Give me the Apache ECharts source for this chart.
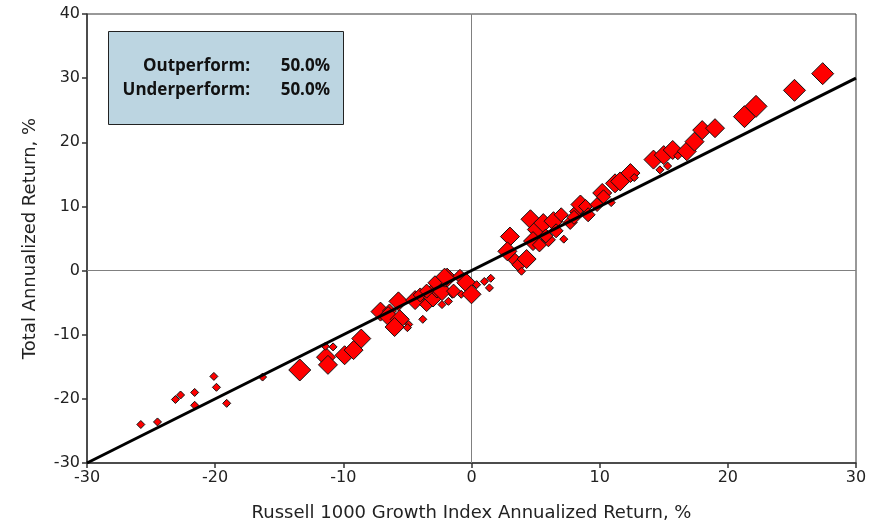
<!DOCTYPE html>
<html>
<head>
<meta charset="utf-8">
<script src="https://cdn.jsdelivr.net/npm/echarts@6/dist/echarts.min.js"></script>
<style>
  html, body { margin: 0; padding: 0; background: #fff; }
  #chart { width: 884px; height: 527px; }
</style>
</head>
<body>
<div id="chart"></div>
<script>
// Fund annualized return vs. Russell 1000 Growth annualized return, per period.
const benchmarkReturn = [
  -25.8, -24.5, -23.1, -22.7, -21.6, -21.6, -20.1, -19.9, -19.1, -16.3,
  -13.4, -11.35, -11.2, -11.4, -10.8, -9.9, -9.2, -8.6,
  -7.1, -6.4, -6.5, -5.7, -5.6, -6.0, -4.9, -5.0, -3.8, -4.4, -4.0, -3.5,
  -3.0, -2.7, -2.3, -2.3, -1.8, -1.9, -1.5, -0.9, -0.4, -0.8, 0.0, 0.4,
  1.0, 1.4, 1.5, -2.1, -2.85, -3.5, -1.4,
  3.0, 2.8, 3.4, 3.7, 3.9, 4.3, 4.6, 5.1, 4.8, 5.3, 5.6, 6.0, 6.4, 7.0,
  7.2, 7.7, 8.2, 8.5, 8.9, 9.1, 9.8, 10.2, 10.3, 10.9, 11.2, 11.6, 12.4,
  12.7, 14.2, 14.7, 15.0, 15.3, 15.7, 16.1, 16.8, 17.4, 18.0, 19.0,
  21.3, 22.2, 25.2, 27.4, 5.8, 6.6, 8.0
];
const fundReturn = [
  -24.0, -23.6, -20.1, -19.4, -19.0, -21.0, -16.5, -18.2, -20.7, -16.6,
  -15.5, -13.5, -14.7, -11.8, -11.9, -13.2, -12.4, -10.6,
  -6.4, -6.3, -7.1, -4.8, -7.6, -8.8, -8.4, -8.9, -7.6, -4.6, -3.8, -5.3,
  -4.2, -2.8, -3.2, -5.3, -4.8, -1.1, -3.7, -0.9, -1.9, -3.7, -3.7, -2.2,
  -1.7, -2.7, -1.2, -1.1, -1.9, -3.2, -3.2,
  5.3, 3.0, 1.6, 0.9, -0.1, 1.8, 8.0, 6.4, 4.6, 4.0, 7.4, 4.8, 7.7, 8.7,
  4.9, 7.5, 9.2, 10.3, 10.0, 8.7, 10.3, 12.1, 11.5, 10.6, 13.6, 13.9, 15.2,
  14.5, 17.3, 15.7, 18.0, 16.3, 18.8, 17.9, 18.6, 20.1, 21.9, 22.2,
  24.0, 25.6, 28.1, 30.7, 5.4, 6.2, 8.3
];
// Relative marker weight (1 = smallest, 4 = largest)
const markerWeight = [
  1, 1, 1, 1, 1, 1, 1, 1, 1, 1,
  4, 3, 3, 1, 1, 3, 3, 3,
  3, 2, 3, 3, 3, 3, 1, 1, 1, 3, 2, 2,
  3, 3, 3, 1, 1, 3, 1, 2, 3, 1, 3, 1,
  1, 1, 1, 3, 2, 2, 2,
  3, 3, 2, 2, 1, 3, 3, 3, 3, 2, 3, 2, 3, 2,
  1, 2, 2, 3, 2, 2, 2, 3, 2, 1, 3, 3, 3,
  1, 3, 1, 3, 1, 3, 1, 3, 3, 3, 3,
  4, 4, 4, 4, 2, 2, 2
];
const summaryLabels = ['Outperform:', 'Underperform:'];
const summaryValues = ['50.0%', '50.0%'];
const xRange = [-30, 30];
const yRange = [-30, 40];

const weightPx = { 1: 8, 2: 14, 3: 19, 4: 22 };
const points = benchmarkReturn.map((x, i) => [x, fundReturn[i], markerWeight[i]]);

const tickFont = { fontFamily: 'DejaVu Sans', fontSize: 16, color: '#222' };
const nameFont = { fontFamily: 'DejaVu Sans', fontSize: 18, color: '#222' };
const chart = echarts.init(document.getElementById('chart'), null, { renderer: 'canvas' });

chart.setOption({
  animation: false,
  backgroundColor: '#fff',
  grid: {
    left: 87, right: 28, top: 14, bottom: 63,
    show: true, borderColor: '#333', borderWidth: 1, backgroundColor: 'transparent'
  },
  xAxis: {
    type: 'value', min: xRange[0], max: xRange[1], interval: 10,
    name: 'Russell 1000 Growth Index Annualized Return, %',
    nameLocation: 'middle', nameGap: 41,
    nameTextStyle: nameFont,
    axisLine: { show: true, onZero: false, lineStyle: { color: '#333', width: 1.5 } },
    axisTick: { show: true, length: 5, lineStyle: { color: '#333', width: 1.5 } },
    axisLabel: Object.assign({ margin: 7 }, tickFont),
    splitLine: { show: false }
  },
  yAxis: {
    type: 'value', min: yRange[0], max: yRange[1], interval: 10,
    name: 'Total Annualized Return, %',
    nameLocation: 'middle', nameGap: 48,
    nameTextStyle: nameFont,
    axisLine: { show: true, onZero: false, lineStyle: { color: '#333', width: 1.5 } },
    axisTick: { show: true, length: 5, lineStyle: { color: '#333', width: 1.5 } },
    axisLabel: Object.assign({ margin: 7 }, tickFont),
    splitLine: { show: false }
  },
  series: [
    {
      type: 'scatter',
      data: points,
      symbol: 'diamond',
      symbolSize: (v) => weightPx[v[2]],
      itemStyle: { color: '#ff0000', borderColor: '#111', borderWidth: 1, opacity: 1 },
      z: 3,
      markLine: {
        silent: true, symbol: 'none', label: { show: false },
        lineStyle: { color: '#808080', width: 1, type: 'solid' },
        data: [{ xAxis: 0 }, { yAxis: 0 }],
        z: 1
      }
    },
    {
      type: 'line',
      data: [[xRange[0], xRange[0]], [xRange[1], xRange[1]]],
      showSymbol: false,
      lineStyle: { color: '#000', width: 3 },
      z: 5
    }
  ],
  graphic: [
    {
      type: 'rect', left: 108, top: 31, z: 10,
      shape: { width: 235, height: 93 },
      style: { fill: '#bcd5e1', stroke: '#222', lineWidth: 1 }
    },
    ...summaryLabels.map((t, i) => ({
      type: 'text', z: 11, x: 250, y: 66 + i * 24,
      style: { text: t, align: 'right', verticalAlign: 'middle',
        font: 'bold 17px "Open Sans"', fill: '#111' }
    })),
    ...summaryValues.map((t, i) => ({
      type: 'text', z: 11, x: 330, y: 66 + i * 24,
      style: { text: t, align: 'right', verticalAlign: 'middle',
        font: 'bold 17px "Open Sans"', fill: '#111' }
    }))
  ]
});
</script>
</body>
</html>
